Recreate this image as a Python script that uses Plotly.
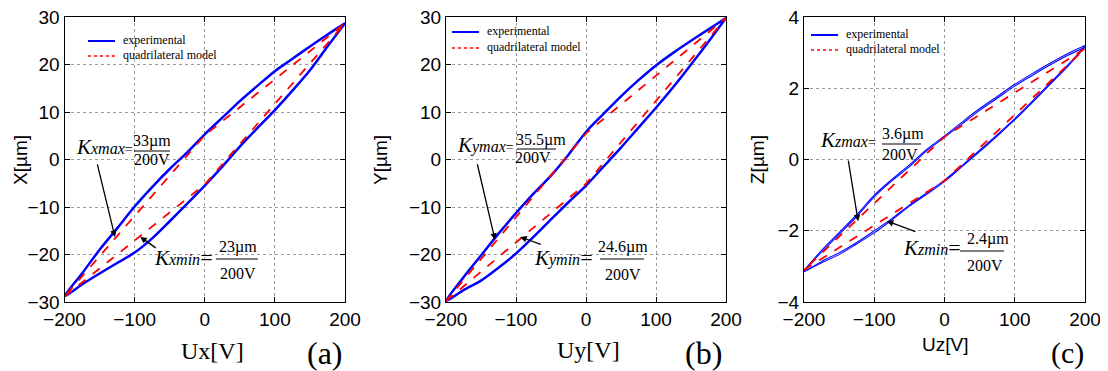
import plotly.graph_objects as go

# The page adds an 8px body margin; the figure is sized and placed so that
# its content lands where the reference has it in the 1108x371 window.
OFF = 8
W, H = 1108 - OFF, 371 - OFF

# ---------------- data ----------------
U = [-200, -175, -150, -125, -100, -75, -50, -25, 0, 25, 50, 75, 100, 125, 150, 175, 200]
U_model = [-200, 0, 200, 0, -200]

# panel (a)  X[um] vs Ux[V]
xa_up = [-28.8, -26.3, -24.0, -21.8, -19.6, -16.6, -13.0, -9.3, -5.5, -1.5, 2.7, 6.6, 10.4, 14.5, 18.8, 23.8, 28.7]
xa_down = [-28.8, -24.0, -19.0, -14.5, -9.9, -5.8, -2.0, 1.5, 5.3, 8.8, 12.3, 15.5, 18.6, 21.2, 23.8, 26.3, 28.7]
xa_model = [-28.85, -5.25, 28.7, 5.1, -28.85]

# panel (b)  Y[um] vs Uy[V]
yb_up = [-29.8, -27.5, -25.5, -22.8, -19.8, -16.3, -12.6, -9.0, -5.5, -1.5, 2.5, 6.7, 10.9, 15.3, 20.0, 24.8, 29.8]
yb_down = [-29.8, -24.8, -20.2, -15.6, -11.3, -7.2, -3.4, 1.0, 5.8, 9.6, 13.3, 16.7, 19.8, 22.5, 25.0, 27.4, 29.8]
yb_model = [-29.8, -5.1, 29.8, 5.5, -29.8]

# panel (c)  Z[um] vs Uz[V]  (two recorded cycles)
zc_up1 = [-3.12, -2.90, -2.67, -2.37, -2.06, -1.70, -1.31, -0.97, -0.62, -0.20, 0.22, 0.66, 1.11, 1.60, 2.10, 2.60, 3.15]
zc_down1 = [-3.12, -2.60, -2.10, -1.60, -1.05, -0.60, -0.20, 0.25, 0.62, 1.00, 1.38, 1.72, 2.06, 2.36, 2.65, 2.92, 3.15]
zc_up2 = [-3.15, -2.86, -2.62, -2.33, -2.00, -1.66, -1.28, -0.93, -0.58, -0.17, 0.26, 0.70, 1.15, 1.64, 2.14, 2.64, 3.20]
zc_down2 = [-3.15, -2.55, -2.05, -1.55, -1.00, -0.56, -0.15, 0.29, 0.66, 1.05, 1.43, 1.77, 2.11, 2.41, 2.70, 2.97, 3.20]
zc_model = [-3.1, -0.6, 3.11, 0.64, -3.1]

x_ticks = [-200, -100, 0, 100, 200]
xy_ticks = [-30, -20, -10, 0, 10, 20, 30]
z_ticks = [-4, -2, 0, 2, 4]

BLUE = "#0000ff"
RED = "#ff0000"


def loop(up, down):
    return U + U[::-1], up + down[::-1]


def PX(x):
    return (x - OFF) / W


def PY(y):
    return 1 - (y - OFF) / H


fig = go.Figure()

# (a)
lx, ly = loop(xa_up, xa_down)
fig.add_trace(go.Scatter(x=lx, y=ly, mode="lines", line=dict(color=BLUE, width=2.5, shape="spline", smoothing=0.8), xaxis="x", yaxis="y", showlegend=False))
fig.add_trace(go.Scatter(x=U_model, y=xa_model, mode="lines", line=dict(color=RED, width=1.8, dash="dash"), xaxis="x", yaxis="y", showlegend=False))
# (b)
lx, ly = loop(yb_up, yb_down)
fig.add_trace(go.Scatter(x=lx, y=ly, mode="lines", line=dict(color=BLUE, width=2.5, shape="spline", smoothing=0.8), xaxis="x2", yaxis="y2", showlegend=False))
fig.add_trace(go.Scatter(x=U_model, y=yb_model, mode="lines", line=dict(color=RED, width=1.8, dash="dash"), xaxis="x2", yaxis="y2", showlegend=False))
# (c)
for up, down in [(zc_up1, zc_down1), (zc_up2, zc_down2)]:
    lx, ly = loop(up, down)
    fig.add_trace(go.Scatter(x=lx, y=ly, mode="lines", line=dict(color=BLUE, width=1.1, shape="spline", smoothing=0.8), xaxis="x3", yaxis="y3", showlegend=False))
fig.add_trace(go.Scatter(x=U_model, y=zc_model, mode="lines", line=dict(color=RED, width=1.8, dash="dash"), xaxis="x3", yaxis="y3", showlegend=False))

axis_common = dict(
    showline=True, linecolor="black", linewidth=1, mirror="ticks",
    ticks="inside", ticklen=5, tickcolor="black",
    showgrid=True, gridcolor="#9a9a9a", griddash="dot", gridwidth=1,
    zeroline=False, automargin=False, ticklabeloverflow="allow",
    tickfont=dict(family="Liberation Sans, Arial", size=19, color="black"),
)

doms = [(64.5, 345), (446, 726), (804, 1085)]

layout = dict(
    width=W, height=H, margin=dict(l=0, r=0, t=0, b=0, autoexpand=False),
    paper_bgcolor="white", plot_bgcolor="white", showlegend=False,
)
for i, (x0, x1) in enumerate(doms):
    s = "" if i == 0 else str(i + 1)
    layout["xaxis" + s] = dict(axis_common, domain=[PX(x0), PX(x1)], range=[-200, 200], tickvals=x_ticks, anchor="y" + s)
    yt = z_ticks if i == 2 else xy_ticks
    layout["yaxis" + s] = dict(axis_common, domain=[PY(302), PY(17)], range=[yt[0], yt[-1]], tickvals=yt, anchor="x" + s)
fig.update_layout(**layout)

SERIF = "Liberation Serif, Times New Roman, serif"
SANS = "Liberation Sans, Arial, sans-serif"
anns = []
shapes = []


def txt(x, y, text, size, family=SERIF, xanchor="center", angle=0):
    anns.append(dict(x=PX(x), y=PY(y), xref="paper", yref="paper", text=text, showarrow=False,
                     font=dict(family=family, size=size, color="black"), xanchor=xanchor, yanchor="middle",
                     textangle=angle, borderpad=0))


def hline(x0, x1, y, color="black", width=1, dash="solid"):
    shapes.append(dict(type="line", xref="paper", yref="paper", x0=PX(x0), x1=PX(x1), y0=PY(y), y1=PY(y),
                       line=dict(color=color, width=width, dash=dash)))


def arrow(xax, yax, x, y, ax, ay):
    anns.append(dict(x=x, y=y, xref=xax, yref=yax, ax=ax, ay=ay, text="", showarrow=True,
                     arrowhead=2, arrowsize=1, arrowwidth=1.3, arrowcolor="black"))


def kname(sub, eq_size):
    return ("<i>K<span style='font-size:16px'>%s</span></i>"
            "<span style='font-size:%dpx'>=</span>") % (sub, eq_size)


# legends
for (lx0, yb, yr) in [(88, 41, 56), (452, 32, 48), (811, 35, 50)]:
    hline(lx0, lx0 + 27, yb, BLUE, 2)
    hline(lx0, lx0 + 27, yr, RED, 1.5, "dot")
    txt(lx0 + 34, yb - 1, "experimental", 12, xanchor="left")
    txt(lx0 + 34, yr - 1, "quadrilateral model", 12, xanchor="left")

# axis titles and panel labels
txt(20, 160, "X[µm]", 19, SANS, angle=-90)
txt(380, 160, "Y[µm]", 19, SANS, angle=-90)
txt(757, 160, "Z[µm]", 19, SANS, angle=-90)
txt(212, 351, "Ux[V]", 24)
txt(588, 350, "Uy[V]", 24)
txt(945, 344, "Uz[V]", 19, SANS)
txt(325, 353, "(a)", 32)
txt(703, 353, "(b)", 32)
txt(1067, 353, "(c)", 30)

# (a) annotations
txt(75, 147, kname("xmax", 14), 21, xanchor="left")
txt(152, 141, "33µm", 16)
hline(134, 170, 151)
txt(152, 159, "200V", 16)
txt(153, 257, kname("xmin", 22), 21, xanchor="left")
txt(238, 247, "23µm", 16)
hline(216, 258, 259)
txt(238, 273, "200V", 16)
arrow("x", "y", -128, -16.3, -18, -74)
arrow("x", "y", -92, -16.3, 17, 12)

# (b) annotations
txt(456, 145, kname("ymax", 14), 21, xanchor="left")
txt(541, 140, "35.5µm", 16)
hline(517, 556, 149)
txt(533, 158, "200V", 16)
txt(533, 257, kname("ymin", 22), 21, xanchor="left")
txt(623, 247, "24.6µm", 16)
hline(600, 644, 259)
txt(623, 274, "200V", 16)
arrow("x2", "y2", -130, -16.9, -18, -77)
arrow("x2", "y2", -94, -16.3, 22, 8)

# (c) annotations
txt(819, 140, kname("zmax", 14), 21, xanchor="left")
txt(903, 134, "3.6µm", 16)
hline(882, 921, 144)
txt(900, 154, "200V", 16)
txt(902, 247, kname("zmin", 22), 21, xanchor="left")
txt(988, 239, "2.4µm", 16)
hline(960, 1004, 251)
txt(985, 265, "200V", 16)
arrow("x3", "y3", -123, -1.73, -10, -62)
arrow("x3", "y3", -82, -1.73, 30, 11)

fig.update_layout(annotations=anns, shapes=shapes)
fig.write_html("out.html")
